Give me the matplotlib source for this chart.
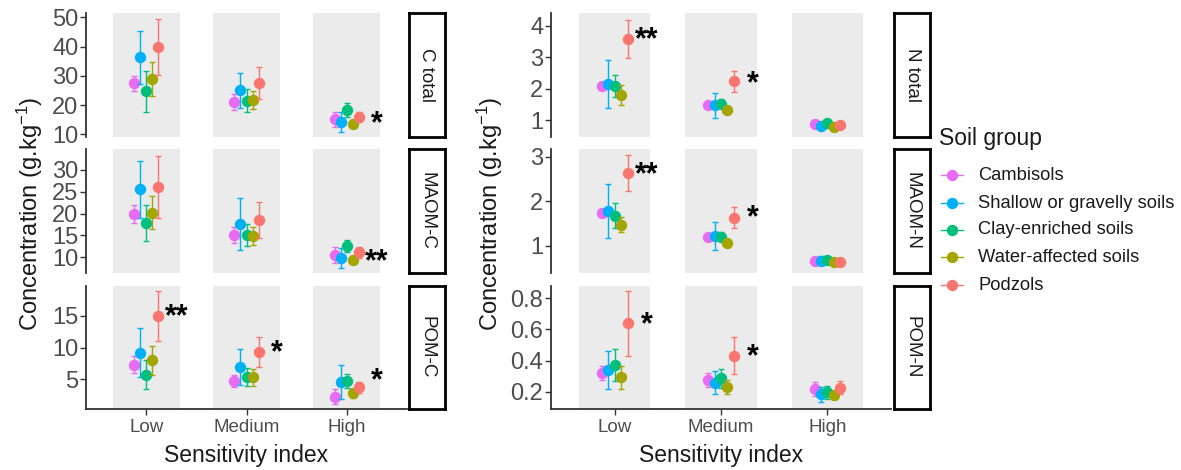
import matplotlib
matplotlib.use("Agg")
import matplotlib.pyplot as plt
from matplotlib.lines import Line2D
from matplotlib.transforms import offset_copy

plt.rcParams['font.family'] = ['Liberation Sans', 'DejaVu Sans']
plt.rcParams['mathtext.default'] = 'regular'

categories = ["Low", "Medium", "High"]
groups = ["Cambisols", "Shallow or gravelly soils", "Clay-enriched soils",
          "Water-affected soils", "Podzols"]
colors = ["#E76BF3", "#00B0F6", "#00BF7D", "#A3A500", "#F8766D"]

# means: one row per soil group, columns Low / Medium / High
c_total_mean = [[27.4, 21.1, 15.1], [36.3, 25.1, 14.1], [24.8, 21.5, 18.3],
                [28.9, 21.7, 13.6], [39.9, 27.6, 15.8]]
c_total_err = [[2.6, 2.6, 2.6], [9.0, 6.0, 3.4], [7.0, 4.0, 2.3],
               [5.8, 3.0, 1.0], [9.5, 5.4, 1.7]]
maom_c_mean = [[19.9, 15.1, 10.5], [25.6, 17.6, 9.9], [17.9, 15.1, 12.6],
               [20.2, 14.9, 9.4], [26.2, 18.5, 11.1]]
maom_c_err = [[2.0, 1.9, 1.9], [6.5, 5.9, 2.3], [4.1, 2.5, 1.3],
              [3.8, 2.0, 0.8], [7.1, 4.1, 1.2]]
pom_c_mean = [[7.3, 4.7, 2.25], [9.2, 6.9, 4.5], [5.7, 5.3, 4.7],
              [8.0, 5.3, 2.8], [15.0, 9.3, 3.7]]
pom_c_err = [[1.3, 1.0, 1.2], [3.9, 2.8, 2.7], [2.3, 1.4, 1.1],
             [2.3, 1.3, 0.7], [3.9, 2.3, 0.8]]
n_total_mean = [[2.08, 1.47, 0.89], [2.14, 1.47, 0.82], [2.09, 1.53, 0.90],
                [1.81, 1.32, 0.79], [3.58, 2.24, 0.85]]
n_total_err = [[0.12, 0.06, 0.06], [0.76, 0.41, 0.12], [0.36, 0.15, 0.07],
               [0.31, 0.13, 0.05], [0.61, 0.33, 0.05]]
maom_n_mean = [[1.73, 1.20, 0.66], [1.78, 1.22, 0.66], [1.67, 1.20, 0.67],
               [1.47, 1.07, 0.63], [2.63, 1.63, 0.63]]
maom_n_err = [[0.08, 0.05, 0.06], [0.60, 0.32, 0.10], [0.28, 0.10, 0.05],
              [0.17, 0.08, 0.03], [0.41, 0.24, 0.03]]
pom_n_mean = [[0.322, 0.275, 0.217], [0.34, 0.258, 0.183], [0.372, 0.286, 0.196],
              [0.293, 0.232, 0.179], [0.64, 0.431, 0.226]]
pom_n_err = [[0.045, 0.045, 0.045], [0.12, 0.075, 0.05], [0.10, 0.06, 0.04],
             [0.075, 0.045, 0.025], [0.21, 0.118, 0.04]]

strip_labels_c = ["C total", "MAOM-C", "POM-C"]
strip_labels_n = ["N total", "MAOM-N", "POM-N"]
yticks_c = [[10, 20, 30, 40, 50], [10, 15, 20, 25, 30], [5, 10, 15]]
yticks_n = [[1, 2, 3, 4], [1, 2, 3], [0.2, 0.4, 0.6, 0.8]]
ylims_c = [(9.1, 51.5), (6.4, 34.8), (0.3, 19.7)]
ylims_n = [(0.47, 4.4), (0.386, 3.17), (0.089, 0.879)]

# significance marks: (row, category index, label, y)
stars_c = [(0, 2, "*", 16.0), (1, 2, "**", 10.5), (2, 0, "**", 15.9),
           (2, 1, "*", 10.15), (2, 2, "*", 5.8)]
stars_n = [(0, 0, "**", 3.75), (0, 1, "*", 2.37), (1, 0, "**", 2.74),
           (1, 1, "*", 1.76), (2, 0, "*", 0.672), (2, 1, "*", 0.468)]

W, H = 1181, 470
fig = plt.figure(figsize=(W / 100, H / 100), dpi=100)

rows_px = [(13, 137), (149, 273), (286, 409)]
TXT = "#1A1A1A"
TICK = "#4D4D4D"
dodge = [-0.12, -0.06, 0.0, 0.06, 0.12]


def add_block(x0, x1, sx0, sx1, means, errs, ylims, yticks, strips, stars):
    axes = []
    for r, (t, b) in enumerate(rows_px):
        ax = fig.add_axes([x0 / W, 1 - b / H, (x1 - x0) / W, (b - t) / H])
        for i in range(3):
            ax.axvspan(i + 1 - 0.335, i + 1 + 0.335, color="#EBEBEB", lw=0, zorder=0)
        for g in range(5):
            xs = [i + 1 + dodge[g] for i in range(3)]
            ax.errorbar(xs, means[r][g], yerr=errs[r][g], fmt='o', color=colors[g],
                        ms=7.2, elinewidth=1.0, capsize=2.2, capthick=1.0, zorder=3 + g)
        star_tr = offset_copy(ax.transData, fig=fig, y=-5, units='points')
        for (rr, ci, lab, yv) in stars:
            if rr == r:
                ax.text(ci + 1 + 0.3, yv, lab, ha='center', va='center',
                        fontsize=22, fontweight='bold', color='black', zorder=10,
                        transform=star_tr)
        ax.set_xlim(0.4, 3.6)
        ax.set_ylim(*ylims[r])
        ax.set_yticks(yticks[r])
        ax.set_yticklabels([("%g" % v) if v >= 1 else ("%.1f" % v) for v in yticks[r]])
        ax.tick_params(axis='y', length=4, width=1, color="#333333", labelsize=17,
                       labelcolor=TICK, pad=1.5)
        for s in ['top', 'right']:
            ax.spines[s].set_visible(False)
        ax.spines['left'].set_linewidth(1.3)
        ax.spines['left'].set_color("#333333")
        if r == 2:
            ax.set_xticks([1, 2, 3])
            ax.set_xticklabels(categories)
            ax.tick_params(axis='x', length=4, width=1, color="#333333", labelsize=13.5,
                           labelcolor=TICK, pad=3)
            ax.spines['bottom'].set_linewidth(1.3)
            ax.spines['bottom'].set_color("#333333")
            ax.set_xlabel("Sensitivity index", fontsize=16.5, color=TXT, labelpad=6)
        else:
            ax.set_xticks([])
            ax.spines['bottom'].set_visible(False)
        ax.set_facecolor('white')
        # strip
        sax = fig.add_axes([sx0 / W, 1 - b / H, (sx1 - sx0) / W, (b - t) / H])
        sax.set_xticks([])
        sax.set_yticks([])
        for s in sax.spines.values():
            s.set_linewidth(2.0)
            s.set_color('black')
        sax.text(0.5, 0.5, strips[r], rotation=-90, ha='center', va='center',
                 fontsize=13.5, color=TXT, transform=sax.transAxes)
        axes.append(ax)
    return axes


axc = add_block(86, 407, 409, 445, [c_total_mean, maom_c_mean, pom_c_mean],
                [c_total_err, maom_c_err, pom_c_err], ylims_c, yticks_c,
                strip_labels_c, stars_c)
axn = add_block(551, 891, 894, 930, [n_total_mean, maom_n_mean, pom_n_mean],
                [n_total_err, maom_n_err, pom_n_err], ylims_n, yticks_n,
                strip_labels_n, stars_n)

ylab = "Concentration (g.kg$^{-1}$)"
fig.text(30 / W, 1 - 214 / H, ylab, rotation=90, ha='center', va='center',
         fontsize=17, color=TXT)
fig.text(490 / W, 1 - 214 / H, ylab, rotation=90, ha='center', va='center',
         fontsize=17, color=TXT)

# legend
fig.text(939 / W, 1 - 138 / H, "Soil group", ha='left', va='center',
         fontsize=16.5, color=TXT)
leg_y = [175, 203, 230, 257, 285]
for g in range(5):
    yy = 1 - leg_y[g] / H
    fig.add_artist(Line2D([941 / W, 963 / W], [yy, yy], color=colors[g], lw=1.0,
                          transform=fig.transFigure))
    fig.add_artist(Line2D([952 / W], [yy], marker='o', ms=7.2, color=colors[g],
                          transform=fig.transFigure))
    fig.text(978 / W, yy, groups[g], ha='left', va='center', fontsize=13.2, color=TXT)

fig.savefig("out.png", dpi=100, facecolor='white')
